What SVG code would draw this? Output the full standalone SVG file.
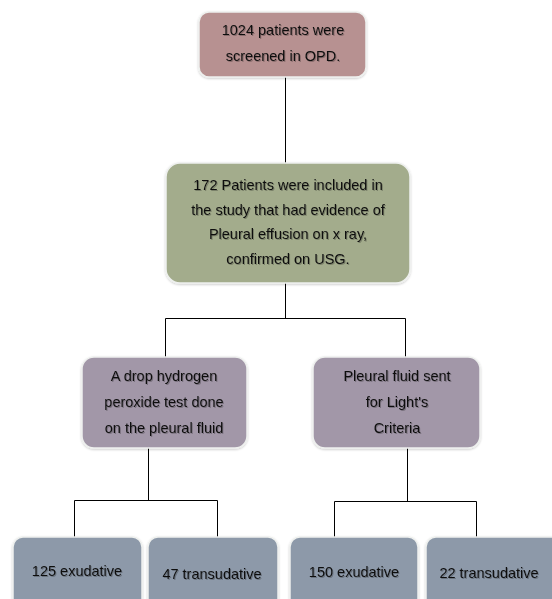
<svg xmlns="http://www.w3.org/2000/svg" width="552" height="599" viewBox="0 0 552 599">
<style>
.box{stroke:#eef0ee;stroke-width:1.5}
.t{font-family:"Liberation Sans",Arial,sans-serif;font-size:14.5px;fill:#111;text-anchor:middle;filter:url(#ts)}
.c{fill:none;stroke:#000;stroke-width:1}
</style>
<defs>
<filter id="ts" x="-10%" y="-30%" width="120%" height="160%">
<feDropShadow dx="1" dy="1" stdDeviation="0.5" flood-color="#000" flood-opacity="0.25"/>
</filter>
<filter id="bs" x="-10%" y="-10%" width="120%" height="130%">
<feDropShadow dx="0" dy="1" stdDeviation="1" flood-color="#000" flood-opacity="0.2"/>
</filter>
</defs>
<rect width="552" height="599" fill="#fff"/>
<g id="connectors">
<path class="c" d="M285.5 77V163"/>
<path class="c" d="M285.5 283V318.5M165.5 357V318.5H405.5V357"/>
<path class="c" d="M148.5 448V500.5M74.5 537V500.5H217.5V537"/>
<path class="c" d="M407.5 448V501.5M334.5 537V501.5H476.5V537"/>
</g>
<g id="n1">
<rect class="box" x="199" y="12" width="167" height="65" rx="10" fill="#b79191" filter="url(#bs)"/>
<text class="t" x="283" y="35">1024 patients were</text>
<text class="t" x="283" y="61">screened in OPD.</text>
</g>
<g id="n2">
<rect class="box" x="166" y="163" width="244" height="120" rx="14" fill="#a3ac8c" filter="url(#bs)"/>
<text class="t" x="288" y="190">172 Patients were included in</text>
<text class="t" x="288" y="215">the study that had evidence of</text>
<text class="t" x="288" y="239">Pleural effusion on x ray,</text>
<text class="t" x="288" y="264">confirmed on USG.</text>
</g>
<g id="n3">
<rect class="box" x="82" y="357" width="165" height="91" rx="12" fill="#a297a8" filter="url(#bs)"/>
<text class="t" x="164" y="381">A drop hydrogen</text>
<text class="t" x="164" y="407">peroxide test done</text>
<text class="t" x="164" y="433">on the pleural fluid</text>
</g>
<g id="n4">
<rect class="box" x="313" y="357" width="167" height="91" rx="12" fill="#a297a8" filter="url(#bs)"/>
<text class="t" x="397" y="381">Pleural fluid sent</text>
<text class="t" x="397" y="407">for Light's</text>
<text class="t" x="397" y="433">Criteria</text>
</g>
<g id="n5">
<rect class="box" x="13" y="537" width="129" height="75" rx="10" fill="#8d99a9" filter="url(#bs)"/>
<text class="t" x="77" y="576">125 exudative</text>
</g>
<g id="n6">
<rect class="box" x="148" y="537" width="130" height="75" rx="10" fill="#8d99a9" filter="url(#bs)"/>
<text class="t" x="212" y="579">47 transudative</text>
</g>
<g id="n7">
<rect class="box" x="290" y="537" width="128" height="75" rx="10" fill="#8d99a9" filter="url(#bs)"/>
<text class="t" x="354" y="577">150 exudative</text>
</g>
<g id="n8">
<rect class="box" x="426" y="537" width="140" height="75" rx="10" fill="#8d99a9" filter="url(#bs)"/>
<text class="t" x="489" y="578">22 transudative</text>
</g>
</svg>
